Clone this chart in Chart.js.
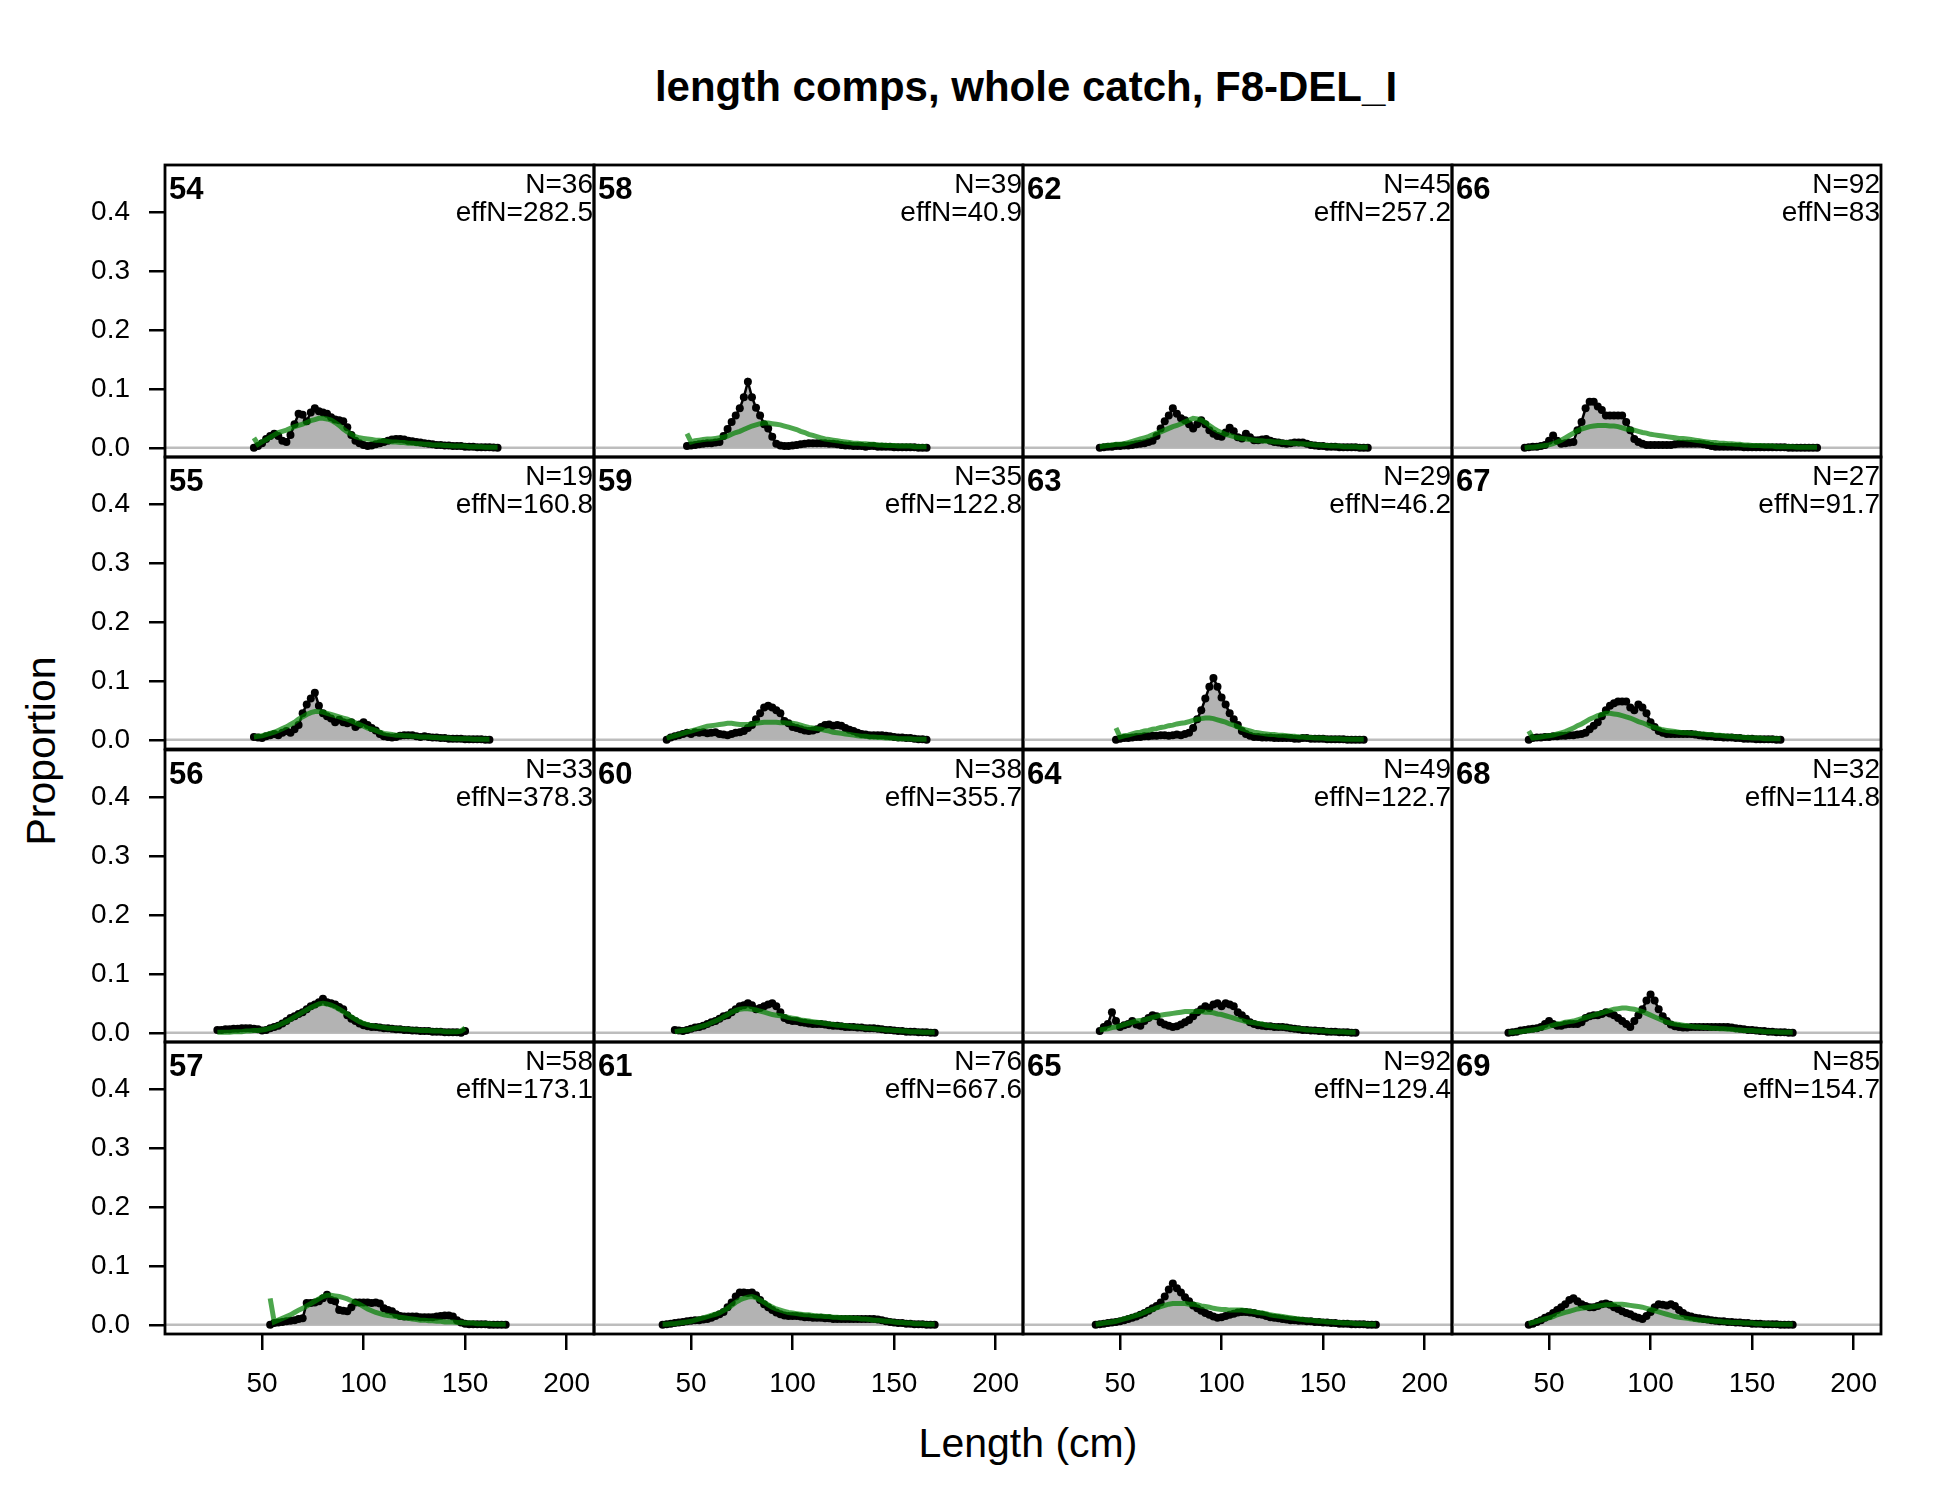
<!DOCTYPE html>
<html>
<head>
<meta charset="utf-8">
<title>length comps, whole catch, F8-DEL_I</title>
<script src="https://cdn.jsdelivr.net/npm/chart.js@4.4.1/dist/chart.umd.min.js"></script>
<style>
  html, body { margin: 0; padding: 0; background: #fff; }
  #stage { position: relative; width: 1950px; height: 1500px; overflow: hidden; font-family: "Liberation Sans", Arial, sans-serif; color: #000; }
  .panel { position: absolute; }
  .lbl { position: absolute; white-space: nowrap; }
</style>
</head>
<body>
<div id="stage">
  <div class="lbl" id="main-title" style="left:1026px;top:87px;transform:translate(-50%,-50%);font-size:42px;font-weight:bold;">length comps, whole catch, F8-DEL_I</div>
  <div class="lbl" style="left:41px;top:751px;transform:translate(-50%,-50%) rotate(-90deg);font-size:41px;">Proportion</div>
  <div class="lbl" style="left:1028px;top:1443px;transform:translate(-50%,-50%);font-size:41px;">Length (cm)</div>
</div>
<script>
// panels, column by column (54..57 | 58..61 | 62..65 | 66..69)
const panelIds  = [54, 55, 56, 57, 58, 59, 60, 61, 62, 63, 64, 65, 66, 67, 68, 69];
const panelN    = [36, 19, 33, 58, 39, 35, 38, 76, 45, 29, 49, 92, 92, 27, 32, 85];
const panelEffN = ['282.5', '160.8', '378.3', '173.1', '40.9', '122.8', '355.7', '667.6',
                   '257.2', '46.2', '122.7', '129.4', '83', '91.7', '114.8', '154.7'];
// first length bin (cm) of each panel, bins are 2 cm wide
const binStart  = [46, 46, 28, 54, 48, 38, 42, 36, 40, 48, 40, 38, 38, 40, 30, 40];
const binWidth  = 2;

const xTicks = [50, 100, 150, 200];
const yTicks = [0, 0.1, 0.2, 0.3, 0.4];

// observed / expected proportions per panel
const obs54 = [0,0.003,0.008,0.015,0.02,0.024,0.02,0.012,0.01,0.022,0.04,0.058,0.056,0.045,0.06,0.067,0.062,0.06,0.058,0.052,0.048,0.047,0.045,0.035,0.022,0.012,0.008,0.005,0.003,0.004,0.006,0.008,0.01,0.012,0.014,0.015,0.015,0.014,0.012,0.011,0.01,0.009,0.008,0.007,0.006,0.005,0.005,0.004,0.004,0.003,0.003,0.003,0.002,0.002,0.002,0.001,0.001,0.001,0.001,0.0005,0];
const exp54 = [0.017,0.006,0.01,0.014,0.018,0.022,0.026,0.028,0.03,0.033,0.036,0.038,0.04,0.043,0.046,0.048,0.05,0.05,0.049,0.047,0.043,0.038,0.032,0.027,0.023,0.019,0.017,0.016,0.015,0.014,0.013,0.013,0.012,0.011,0.01,0.01,0.009,0.009,0.008,0.008,0.007,0.007,0.006,0.006,0.005,0.005,0.005,0.004,0.004,0.003,0.003,0.003,0.003,0.002,0.002,0.002,0.002,0.001,0.001,0.001,0.001];

const obs55 = [0.005,0.004,0.003,0.006,0.008,0.01,0.008,0.012,0.015,0.012,0.018,0.025,0.045,0.06,0.07,0.08,0.058,0.045,0.04,0.036,0.03,0.034,0.03,0.028,0.03,0.022,0.026,0.03,0.025,0.02,0.016,0.01,0.006,0.005,0.004,0.005,0.007,0.008,0.008,0.008,0.006,0.005,0.006,0.005,0.004,0.004,0.003,0.003,0.002,0.002,0.002,0.002,0.001,0.001,0.001,0.001,0.001,0,0];
const exp55 = [0.005,0.006,0.007,0.009,0.011,0.013,0.016,0.019,0.022,0.026,0.03,0.035,0.039,0.043,0.046,0.048,0.048,0.047,0.045,0.043,0.041,0.039,0.037,0.035,0.032,0.029,0.026,0.023,0.02,0.018,0.016,0.013,0.011,0.01,0.009,0.008,0.008,0.007,0.007,0.006,0.006,0.005,0.005,0.005,0.004,0.004,0.003,0.003,0.003,0.002,0.002,0.002,0.002,0.002,0.001,0.001,0.001,0.001,0.001];

const obs56 = [0.005,0.005,0.006,0.006,0.007,0.007,0.008,0.008,0.008,0.007,0.006,0.004,0.005,0.008,0.01,0.012,0.016,0.02,0.025,0.028,0.032,0.035,0.04,0.045,0.048,0.052,0.058,0.052,0.05,0.048,0.044,0.04,0.03,0.024,0.02,0.016,0.013,0.011,0.01,0.01,0.009,0.008,0.008,0.007,0.006,0.006,0.005,0.005,0.004,0.004,0.003,0.003,0.003,0.002,0.002,0.002,0.001,0.001,0.001,0.001,0,0.003];
const exp56 = [0.001,0.001,0.001,0.001,0.002,0.002,0.002,0.003,0.003,0.004,0.004,0.005,0.006,0.008,0.01,0.013,0.016,0.019,0.023,0.027,0.031,0.035,0.039,0.043,0.046,0.049,0.05,0.049,0.047,0.044,0.04,0.036,0.032,0.027,0.023,0.019,0.016,0.014,0.012,0.011,0.01,0.009,0.008,0.008,0.007,0.007,0.006,0.006,0.005,0.005,0.004,0.004,0.004,0.003,0.003,0.003,0.002,0.002,0.002,0.002,0.003,0.008];

const obs57 = [0,0.003,0.004,0.005,0.006,0.007,0.008,0.01,0.011,0.037,0.037,0.038,0.04,0.045,0.051,0.042,0.04,0.025,0.024,0.023,0.03,0.038,0.038,0.038,0.038,0.037,0.038,0.036,0.028,0.025,0.023,0.018,0.015,0.014,0.014,0.014,0.014,0.013,0.013,0.013,0.013,0.014,0.015,0.016,0.016,0.014,0.008,0.004,0.002,0.001,0.001,0.001,0.001,0.001,0,0,0,0,0];
const exp57 = [0.045,0.005,0.008,0.011,0.014,0.017,0.021,0.025,0.028,0.032,0.036,0.04,0.044,0.048,0.05,0.05,0.049,0.048,0.046,0.044,0.041,0.038,0.035,0.031,0.027,0.024,0.021,0.019,0.017,0.016,0.015,0.014,0.013,0.012,0.011,0.01,0.009,0.008,0.008,0.007,0.007,0.006,0.006,0.005,0.005,0.005,0.004,0.004,0.003,0.003,0.003,0.002,0.002,0.002,0.002,0.001,0.001,0.001,0.001];

const obs58 = [0.003,0.004,0.005,0.006,0.007,0.008,0.008,0.009,0.01,0.02,0.032,0.044,0.055,0.067,0.086,0.112,0.086,0.068,0.055,0.04,0.033,0.019,0.007,0.004,0.003,0.003,0.004,0.005,0.006,0.007,0.008,0.008,0.008,0.008,0.008,0.007,0.007,0.006,0.005,0.004,0.004,0.003,0.003,0.003,0.002,0.003,0.003,0.002,0.002,0.002,0.002,0.001,0.001,0.001,0.001,0.001,0.001,0,0,0];
const exp58 = [0.024,0.01,0.012,0.013,0.014,0.015,0.015,0.016,0.017,0.018,0.02,0.023,0.026,0.028,0.031,0.034,0.037,0.039,0.041,0.042,0.042,0.041,0.04,0.039,0.037,0.035,0.033,0.031,0.028,0.026,0.023,0.021,0.019,0.017,0.015,0.014,0.013,0.012,0.011,0.01,0.009,0.008,0.008,0.007,0.007,0.006,0.006,0.005,0.005,0.004,0.004,0.004,0.003,0.003,0.003,0.003,0.002,0.002,0.002,0.002];

const obs59 = [0,0.004,0.006,0.008,0.01,0.012,0.01,0.013,0.012,0.013,0.011,0.012,0.013,0.01,0.009,0.008,0.01,0.012,0.013,0.015,0.02,0.025,0.035,0.045,0.055,0.058,0.055,0.05,0.045,0.032,0.028,0.022,0.02,0.018,0.016,0.015,0.016,0.018,0.022,0.025,0.026,0.024,0.025,0.024,0.02,0.017,0.015,0.012,0.01,0.009,0.008,0.008,0.008,0.008,0.007,0.006,0.005,0.004,0.004,0.003,0.003,0.002,0.001,0.001,0];
const exp59 = [0.003,0.005,0.007,0.009,0.011,0.013,0.015,0.017,0.019,0.021,0.023,0.024,0.025,0.026,0.027,0.028,0.028,0.027,0.026,0.026,0.026,0.027,0.028,0.029,0.03,0.03,0.03,0.03,0.029,0.029,0.028,0.028,0.027,0.025,0.023,0.021,0.02,0.019,0.018,0.016,0.015,0.013,0.012,0.011,0.01,0.009,0.008,0.007,0.006,0.006,0.005,0.005,0.004,0.004,0.003,0.003,0.003,0.002,0.002,0.002,0.002,0.001,0.001,0.001,0.001];

const obs60 = [0.005,0.004,0.003,0.005,0.007,0.009,0.01,0.012,0.015,0.018,0.02,0.024,0.028,0.03,0.035,0.04,0.045,0.047,0.05,0.047,0.04,0.042,0.045,0.048,0.05,0.045,0.035,0.025,0.022,0.02,0.02,0.018,0.017,0.016,0.015,0.015,0.015,0.014,0.013,0.012,0.012,0.011,0.01,0.01,0.01,0.009,0.009,0.008,0.008,0.008,0.007,0.006,0.005,0.005,0.004,0.003,0.003,0.002,0.002,0.002,0.001,0.001,0.001,0,0];
const exp60 = [0.002,0.003,0.004,0.005,0.006,0.008,0.01,0.012,0.014,0.017,0.02,0.023,0.027,0.031,0.035,0.038,0.04,0.041,0.041,0.04,0.039,0.037,0.035,0.033,0.031,0.03,0.029,0.028,0.026,0.025,0.024,0.022,0.021,0.02,0.019,0.018,0.017,0.016,0.015,0.014,0.013,0.013,0.012,0.011,0.01,0.01,0.009,0.008,0.008,0.007,0.006,0.006,0.005,0.005,0.004,0.004,0.003,0.003,0.002,0.002,0.002,0.001,0.001,0.001,0.001];

const obs61 = [0,0.001,0.002,0.003,0.004,0.005,0.006,0.007,0.008,0.008,0.009,0.01,0.012,0.015,0.018,0.022,0.03,0.038,0.048,0.055,0.055,0.054,0.055,0.05,0.042,0.035,0.03,0.025,0.021,0.018,0.016,0.015,0.015,0.015,0.014,0.013,0.013,0.012,0.012,0.012,0.011,0.011,0.01,0.01,0.01,0.01,0.01,0.01,0.01,0.01,0.01,0.01,0.01,0.009,0.008,0.006,0.005,0.004,0.003,0.003,0.002,0.002,0.001,0.001,0.001,0,0,0];
const exp61 = [0.001,0.001,0.002,0.002,0.003,0.004,0.005,0.006,0.008,0.01,0.012,0.014,0.016,0.018,0.02,0.024,0.028,0.033,0.038,0.042,0.045,0.047,0.048,0.046,0.042,0.038,0.034,0.03,0.027,0.025,0.023,0.021,0.02,0.019,0.018,0.017,0.017,0.016,0.015,0.015,0.014,0.014,0.013,0.013,0.012,0.012,0.012,0.011,0.011,0.01,0.01,0.009,0.008,0.008,0.007,0.006,0.006,0.005,0.004,0.004,0.003,0.003,0.002,0.002,0.002,0.001,0.001,0.001];

const obs62 = [0,0.001,0.002,0.002,0.003,0.003,0.004,0.004,0.005,0.006,0.007,0.008,0.01,0.012,0.02,0.033,0.045,0.055,0.067,0.058,0.05,0.047,0.04,0.033,0.04,0.047,0.04,0.03,0.024,0.02,0.019,0.026,0.034,0.028,0.018,0.016,0.024,0.018,0.013,0.013,0.014,0.015,0.012,0.01,0.009,0.008,0.007,0.008,0.009,0.009,0.009,0.007,0.005,0.004,0.003,0.003,0.002,0.002,0.002,0.001,0.001,0.001,0.001,0.001,0,0,0];
const exp62 = [0.002,0.003,0.004,0.005,0.006,0.006,0.007,0.009,0.011,0.013,0.015,0.017,0.019,0.022,0.025,0.027,0.03,0.033,0.036,0.038,0.041,0.044,0.047,0.05,0.049,0.047,0.043,0.038,0.033,0.029,0.026,0.023,0.021,0.019,0.017,0.016,0.015,0.014,0.013,0.012,0.012,0.011,0.011,0.01,0.01,0.009,0.009,0.008,0.008,0.007,0.007,0.006,0.006,0.005,0.005,0.004,0.004,0.003,0.003,0.003,0.002,0.002,0.002,0.002,0.001,0.001,0.001];

const obs63 = [0,0.002,0.003,0.003,0.004,0.005,0.005,0.006,0.006,0.007,0.007,0.008,0.008,0.007,0.008,0.009,0.008,0.01,0.012,0.02,0.035,0.05,0.07,0.09,0.105,0.09,0.072,0.06,0.045,0.035,0.025,0.015,0.01,0.007,0.005,0.005,0.004,0.004,0.004,0.003,0.003,0.003,0.003,0.003,0.002,0.002,0.003,0.003,0.002,0.002,0.002,0.002,0.001,0.001,0.001,0.001,0.001,0,0,0,0,0];
const exp63 = [0.02,0.005,0.007,0.008,0.01,0.012,0.013,0.015,0.016,0.018,0.019,0.021,0.022,0.024,0.025,0.027,0.028,0.029,0.031,0.033,0.035,0.036,0.037,0.037,0.036,0.034,0.032,0.03,0.027,0.025,0.022,0.019,0.017,0.015,0.013,0.012,0.011,0.01,0.009,0.009,0.008,0.008,0.007,0.006,0.006,0.005,0.005,0.004,0.004,0.003,0.003,0.003,0.002,0.002,0.002,0.002,0.001,0.001,0.001,0.001,0.001,0.001];

const obs64 = [0.003,0.01,0.015,0.035,0.02,0.01,0.013,0.015,0.02,0.014,0.012,0.02,0.025,0.03,0.028,0.018,0.014,0.012,0.01,0.011,0.014,0.018,0.022,0.028,0.035,0.04,0.045,0.042,0.048,0.05,0.045,0.05,0.048,0.045,0.035,0.03,0.024,0.018,0.015,0.013,0.012,0.011,0.011,0.01,0.01,0.01,0.009,0.008,0.007,0.006,0.005,0.005,0.004,0.004,0.003,0.003,0.002,0.002,0.002,0.001,0.001,0.001,0,0];
const exp64 = [0.005,0.006,0.007,0.009,0.01,0.012,0.014,0.016,0.018,0.02,0.021,0.022,0.024,0.026,0.028,0.03,0.031,0.032,0.033,0.034,0.035,0.036,0.036,0.036,0.036,0.036,0.035,0.035,0.034,0.032,0.031,0.029,0.027,0.025,0.023,0.021,0.019,0.018,0.017,0.016,0.015,0.013,0.012,0.011,0.01,0.01,0.009,0.008,0.007,0.007,0.006,0.005,0.005,0.004,0.004,0.003,0.003,0.002,0.002,0.002,0.002,0.001,0.001,0.001];

const obs65 = [0,0.001,0.002,0.003,0.004,0.005,0.006,0.008,0.01,0.012,0.014,0.017,0.02,0.024,0.028,0.032,0.038,0.048,0.06,0.07,0.062,0.055,0.047,0.04,0.033,0.028,0.024,0.02,0.017,0.014,0.012,0.013,0.015,0.017,0.019,0.021,0.022,0.022,0.021,0.02,0.018,0.017,0.015,0.013,0.012,0.011,0.01,0.009,0.008,0.008,0.007,0.007,0.006,0.006,0.005,0.005,0.004,0.004,0.003,0.003,0.002,0.002,0.002,0.001,0.001,0.001,0.001,0,0,0];
const exp65 = [0.001,0.002,0.003,0.004,0.005,0.006,0.008,0.01,0.012,0.014,0.016,0.018,0.021,0.024,0.026,0.029,0.031,0.033,0.035,0.036,0.036,0.036,0.036,0.035,0.035,0.034,0.032,0.031,0.03,0.028,0.027,0.026,0.026,0.025,0.025,0.025,0.025,0.024,0.023,0.022,0.021,0.02,0.019,0.017,0.016,0.015,0.014,0.013,0.012,0.011,0.01,0.009,0.008,0.008,0.007,0.006,0.006,0.005,0.005,0.004,0.004,0.003,0.003,0.003,0.002,0.002,0.002,0.001,0.001,0.001];

const obs66 = [0,0.001,0.002,0.002,0.003,0.005,0.012,0.021,0.012,0.007,0.008,0.009,0.01,0.03,0.044,0.067,0.078,0.078,0.07,0.064,0.055,0.055,0.055,0.055,0.055,0.044,0.03,0.015,0.01,0.007,0.005,0.005,0.005,0.005,0.005,0.005,0.005,0.006,0.007,0.007,0.007,0.007,0.007,0.007,0.006,0.005,0.003,0.002,0.002,0.002,0.002,0.002,0.002,0.002,0.001,0.001,0.001,0.001,0.001,0.001,0.001,0.001,0.001,0.001,0.001,0,0,0,0,0,0,0,0];
const exp66 = [0,0.001,0.001,0.002,0.003,0.004,0.005,0.007,0.01,0.013,0.017,0.021,0.025,0.029,0.032,0.034,0.036,0.037,0.038,0.038,0.038,0.037,0.037,0.036,0.034,0.032,0.031,0.03,0.028,0.026,0.025,0.023,0.022,0.021,0.02,0.019,0.018,0.017,0.016,0.016,0.015,0.014,0.013,0.012,0.011,0.01,0.009,0.009,0.008,0.008,0.007,0.007,0.006,0.006,0.005,0.005,0.004,0.004,0.004,0.003,0.003,0.003,0.002,0.002,0.002,0.002,0.002,0.001,0.001,0.001,0.001,0.001,0.001];

const obs67 = [0,0.003,0.004,0.004,0.005,0.005,0.006,0.006,0.007,0.007,0.008,0.008,0.009,0.01,0.012,0.018,0.024,0.03,0.04,0.05,0.058,0.062,0.065,0.065,0.065,0.055,0.05,0.06,0.055,0.045,0.03,0.022,0.015,0.012,0.01,0.01,0.01,0.01,0.01,0.01,0.01,0.009,0.008,0.007,0.006,0.006,0.005,0.005,0.004,0.004,0.004,0.003,0.003,0.002,0.002,0.002,0.001,0.001,0.001,0.001,0.001,0,0];
const exp67 = [0.015,0.003,0.004,0.005,0.006,0.007,0.008,0.01,0.012,0.014,0.017,0.02,0.024,0.027,0.031,0.035,0.038,0.041,0.043,0.045,0.045,0.044,0.043,0.041,0.039,0.037,0.034,0.031,0.029,0.026,0.023,0.021,0.019,0.017,0.016,0.015,0.014,0.013,0.012,0.012,0.011,0.011,0.01,0.01,0.009,0.009,0.008,0.008,0.007,0.006,0.006,0.005,0.005,0.004,0.004,0.003,0.003,0.003,0.002,0.002,0.002,0.002,0.002];

const obs68 = [0,0.001,0.002,0.004,0.005,0.006,0.007,0.008,0.01,0.015,0.02,0.015,0.012,0.012,0.014,0.015,0.015,0.015,0.018,0.025,0.028,0.03,0.03,0.032,0.035,0.033,0.03,0.025,0.02,0.015,0.01,0.02,0.03,0.04,0.055,0.065,0.055,0.04,0.028,0.02,0.014,0.011,0.01,0.009,0.009,0.01,0.01,0.01,0.01,0.01,0.01,0.01,0.01,0.01,0.01,0.009,0.008,0.007,0.006,0.005,0.005,0.004,0.003,0.003,0.002,0.002,0.001,0.001,0.001,0,0];
const exp68 = [0.001,0.001,0.002,0.002,0.003,0.004,0.005,0.006,0.008,0.009,0.011,0.013,0.015,0.016,0.018,0.019,0.02,0.022,0.024,0.026,0.028,0.03,0.032,0.034,0.036,0.038,0.04,0.041,0.042,0.042,0.041,0.04,0.038,0.036,0.033,0.03,0.027,0.024,0.021,0.018,0.016,0.015,0.014,0.013,0.012,0.011,0.01,0.01,0.009,0.009,0.008,0.008,0.007,0.007,0.006,0.006,0.005,0.005,0.004,0.004,0.004,0.003,0.003,0.002,0.002,0.002,0.002,0.001,0.001,0.001,0.001];

const obs69 = [0,0.002,0.005,0.008,0.012,0.015,0.02,0.025,0.03,0.035,0.042,0.045,0.04,0.035,0.032,0.03,0.03,0.032,0.035,0.036,0.034,0.03,0.027,0.023,0.02,0.018,0.014,0.012,0.01,0.015,0.022,0.03,0.035,0.034,0.033,0.035,0.032,0.025,0.02,0.016,0.014,0.012,0.011,0.01,0.009,0.008,0.007,0.006,0.006,0.005,0.005,0.004,0.004,0.003,0.003,0.002,0.002,0.002,0.001,0.001,0.001,0.001,0,0,0,0];
const exp69 = [0.002,0.004,0.006,0.008,0.01,0.012,0.014,0.017,0.019,0.021,0.023,0.025,0.027,0.028,0.029,0.03,0.031,0.032,0.033,0.034,0.034,0.035,0.035,0.035,0.034,0.033,0.032,0.031,0.03,0.028,0.026,0.024,0.022,0.02,0.018,0.016,0.014,0.013,0.012,0.011,0.01,0.009,0.008,0.008,0.007,0.007,0.006,0.006,0.005,0.005,0.004,0.004,0.004,0.003,0.003,0.003,0.002,0.002,0.002,0.002,0.001,0.001,0.001,0.001,0.001,0.001];

const obsSeries = [obs54, obs55, obs56, obs57, obs58, obs59, obs60, obs61, obs62, obs63, obs64, obs65, obs66, obs67, obs68, obs69];
const expSeries = [exp54, exp55, exp56, exp57, exp58, exp59, exp60, exp61, exp62, exp63, exp64, exp65, exp66, exp67, exp68, exp69];

// layout (px)
const COL_X = [165, 594, 1023, 1452];
const ROW_Y = [165, 457, 750, 1042];
const PW = 429, PH = 292, PAD = 20, AXIS_W = 145, AXIS_H = 100;
const X_MIN = 2.2, X_MAX = 213.5, Y_MIN = -0.0155, Y_MAX = 0.4795;
const FONT = '"Liberation Sans", Arial, sans-serif';

function toPoints(vals, start) {
  return vals.map((v, i) => ({ x: start + i * binWidth, y: v }));
}

function panelPlugin(k) {
  return {
    id: 'panelDeco' + k,
    beforeDatasetsDraw(chart) {
      const { ctx, chartArea: a, scales } = chart;
      const y0 = scales.y.getPixelForValue(0);
      ctx.save();
      ctx.strokeStyle = '#bdbdbd';
      ctx.lineWidth = 2.5;
      ctx.beginPath();
      ctx.moveTo(a.left, y0);
      ctx.lineTo(a.right, y0);
      ctx.stroke();
      ctx.restore();
    },
    afterDraw(chart) {
      const { ctx, chartArea: a } = chart;
      ctx.save();
      ctx.strokeStyle = '#000';
      ctx.lineWidth = 2.8;
      ctx.strokeRect(a.left, a.top, a.right - a.left, a.bottom - a.top);
      ctx.fillStyle = '#000';
      ctx.textBaseline = 'alphabetic';
      ctx.font = 'bold 31px ' + FONT;
      ctx.textAlign = 'left';
      ctx.fillText(String(panelIds[k]), a.left + 4, a.top + 34);
      ctx.font = '28px ' + FONT;
      ctx.textAlign = 'right';
      ctx.fillText('N=' + panelN[k], a.right - 1, a.top + 28);
      ctx.fillText('effN=' + panelEffN[k], a.right - 1, a.top + 56);
      ctx.restore();
    }
  };
}

const stage = document.getElementById('stage');

panelIds.forEach((id, k) => {
  const col = Math.floor(k / 4), row = k % 4;
  const isLeft = col === 0, isBottom = row === 3;
  const w = PW + 2 * PAD + (isLeft ? AXIS_W : 0);
  const h = PH + 2 * PAD + (isBottom ? AXIS_H : 0);
  const x0 = COL_X[col] - PAD - (isLeft ? AXIS_W : 0);
  const y0 = ROW_Y[row] - PAD;

  const box = document.createElement('div');
  box.className = 'panel';
  box.style.cssText = `left:${x0}px;top:${y0}px;width:${w}px;height:${h}px;`;
  const cv = document.createElement('canvas');
  cv.width = w; cv.height = h;
  cv.style.width = w + 'px'; cv.style.height = h + 'px';
  box.appendChild(cv);
  stage.appendChild(box);

  new Chart(cv, {
    type: 'line',
    data: {
      datasets: [
        {
          label: 'observed',
          data: toPoints(obsSeries[k], binStart[k]),
          borderColor: '#000',
          borderWidth: 2.5,
          backgroundColor: '#b3b3b3',
          fill: 'origin',
          pointRadius: 4,
          pointBackgroundColor: '#000',
          pointBorderWidth: 0,
          tension: 0,
          order: 2
        },
        {
          label: 'expected',
          data: toPoints(expSeries[k], binStart[k]),
          borderColor: 'rgba(0,128,0,0.7)',
          borderWidth: 5,
          pointRadius: 0,
          fill: false,
          tension: 0,
          order: 1
        }
      ]
    },
    options: {
      responsive: false,
      animation: false,
      devicePixelRatio: 1,
      layout: { padding: PAD },
      plugins: { legend: { display: false }, tooltip: { enabled: false } },
      scales: {
        x: {
          type: 'linear', min: X_MIN, max: X_MAX,
          display: isBottom,
          afterBuildTicks: s => { s.ticks = xTicks.map(v => ({ value: v })); },
          afterFit: s => {
            if (!isBottom) return;
            s.height = AXIS_H; s.paddingLeft = 0; s.paddingRight = 0;
          },
          grid: { drawOnChartArea: false, drawTicks: true, tickLength: 16, color: '#000', lineWidth: 2.5 },
          border: { display: false },
          ticks: { font: { family: FONT, size: 28 }, color: '#000', padding: 17, maxRotation: 0, autoSkip: false }
        },
        y: {
          type: 'linear', min: Y_MIN, max: Y_MAX,
          display: isLeft,
          afterBuildTicks: s => { s.ticks = yTicks.map(v => ({ value: v })); },
          afterFit: s => {
            if (!isLeft) return;
            s.width = AXIS_W; s.paddingTop = 0; s.paddingBottom = 0;
          },
          grid: { drawOnChartArea: false, drawTicks: true, tickLength: 16, color: '#000', lineWidth: 2.5 },
          border: { display: false },
          ticks: { font: { family: FONT, size: 28 }, color: '#000', padding: 19, callback: v => Number(v).toFixed(1) }
        }
      }
    },
    plugins: [panelPlugin(k)]
  });
});
</script>
</body>
</html>
